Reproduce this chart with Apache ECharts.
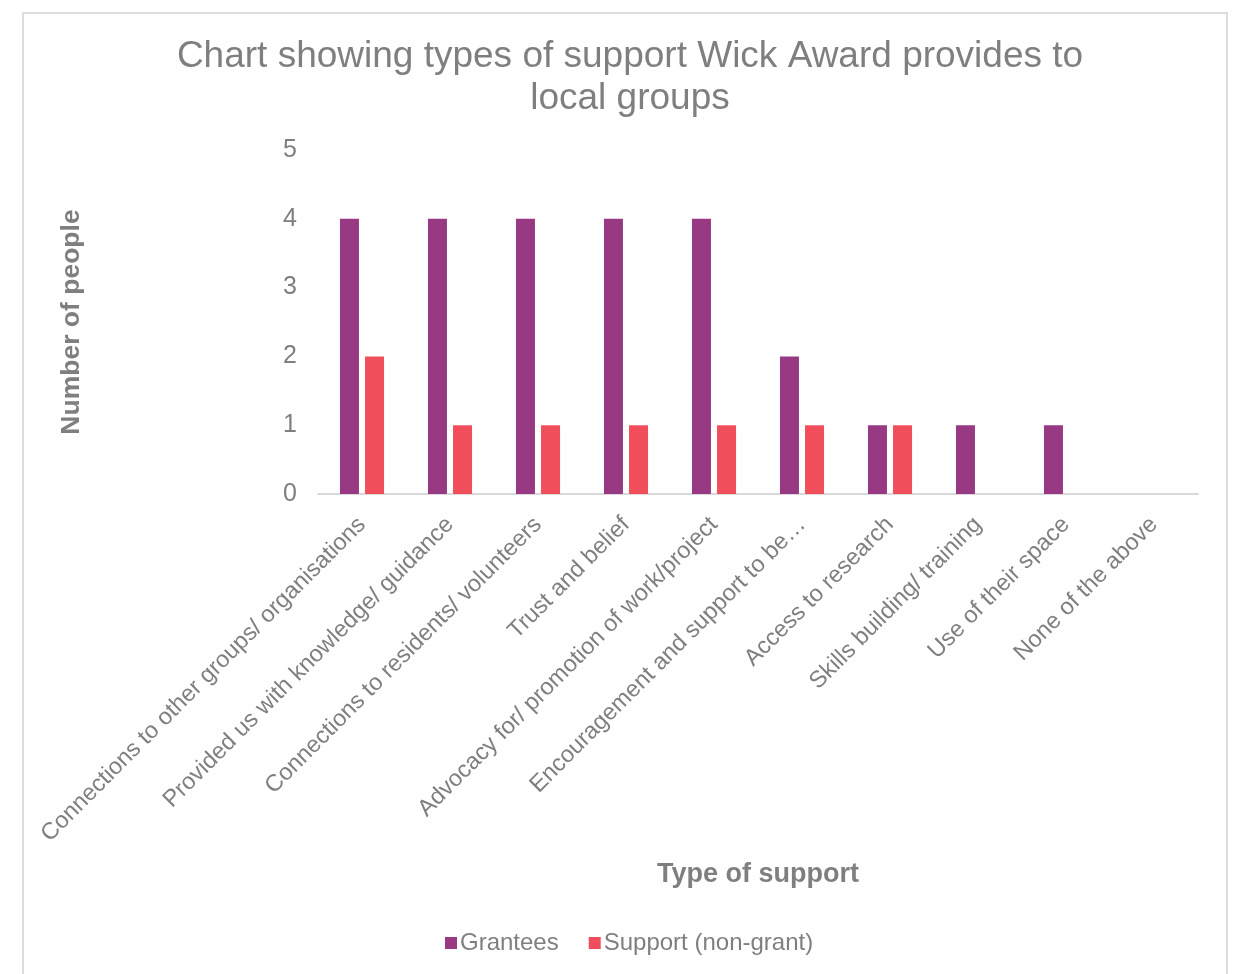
<!DOCTYPE html>
<html>
<head>
<meta charset="utf-8">
<script src="https://cdn.jsdelivr.net/npm/echarts@6/dist/echarts.min.js"></script>
<style>
  html, body { margin: 0; padding: 0; background: #ffffff; }
  #frame { position: absolute; left: 22px; top: 12px; width: 1206px; height: 990px; border: 2px solid #dcdcdc; box-sizing: border-box; }
  #chart { position: absolute; left: 0; top: 0; width: 1239px; height: 974px; }
</style>
</head>
<body>
<div id="frame"></div>
<div id="chart"></div>
<script>
const categories = [
  "Connections to other groups/ organisations",
  "Provided us with knowledge/ guidance",
  "Connections to residents/ volunteers",
  "Trust and belief",
  "Advocacy for/ promotion of work/project",
  "Encouragement and support to be…",
  "Access to research",
  "Skills building/ training",
  "Use of their space",
  "None of the above"
];
const grantees = [4, 4, 4, 4, 4, 2, 1, 1, 1, 0];
const supportNonGrant = [2, 1, 1, 1, 1, 1, 1, 0, 0, 0];
const yTicks = [0, 1, 2, 3, 4, 5];

const grey = '#7f7f7f';
const font = 'Liberation Sans, Arial, sans-serif';
const chart = echarts.init(document.getElementById('chart'));
chart.setOption({
  animation: false,
  title: {
    text: 'Chart showing types of support Wick Award provides to\nlocal groups',
    left: 625, top: 31, textAlign: 'center',
    textStyle: { fontFamily: font, fontSize: 37, fontWeight: 'normal', color: grey, lineHeight: 42 }
  },
  legend: {
    left: 440, top: 926,
    itemWidth: 12, itemHeight: 12, itemGap: 30,
    icon: 'rect',
    textStyle: { fontFamily: font, fontSize: 24, color: grey, padding: [0, 0, 0, -2] },
    data: ['Grantees', 'Support (non-grant)']
  },
  grid: { left: 318, right: 41, top: 150, bottom: 480, containLabel: false },
  xAxis: {
    type: 'category',
    data: categories,
    name: 'Type of support',
    nameLocation: 'middle',
    nameGap: 367,
    nameTextStyle: { fontFamily: font, fontSize: 27, fontWeight: 'bold', color: grey },
    axisLine: { lineStyle: { color: '#d9d9d9', width: 2 } },
    axisTick: { show: false },
    axisLabel: { rotate: 45, interval: 0, margin: 27, fontFamily: font, fontSize: 23.5, color: grey }
  },
  yAxis: {
    type: 'value',
    min: yTicks[0], max: yTicks[yTicks.length - 1], interval: 1,
    name: 'Number of people',
    nameLocation: 'middle',
    nameGap: 233,
    nameRotate: 90,
    nameTextStyle: { fontFamily: font, fontSize: 26.5, fontWeight: 'bold', color: grey },
    axisLine: { show: false },
    axisTick: { show: false },
    splitLine: { show: false },
    axisLabel: { margin: 21, fontFamily: font, fontSize: 25, color: grey }
  },
  series: [
    { name: 'Grantees', type: 'bar', data: grantees, barWidth: 19, barGap: '32%',
      itemStyle: { color: '#983983' } },
    { name: 'Support (non-grant)', type: 'bar', data: supportNonGrant, barWidth: 19,
      itemStyle: { color: '#f04e5a' } }
  ]
});
</script>
</body>
</html>
